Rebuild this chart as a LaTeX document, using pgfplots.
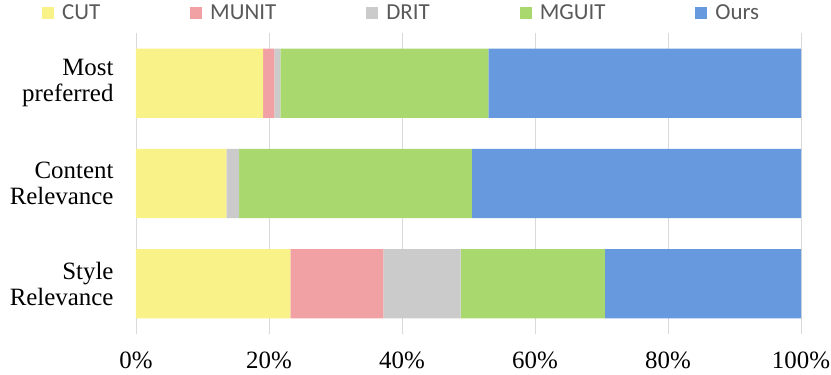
\documentclass[border=0pt]{standalone}
\usepackage{pgfplots}
\pgfplotsset{compat=1.18}
\usepackage{fontspec}
\setmainfont{Liberation Serif}
\newfontfamily\legfont{Carlito}

\definecolor{cCut}{RGB}{249,242,136}
\definecolor{cMunit}{RGB}{241,160,164}
\definecolor{cDrit}{RGB}{203,203,203}
\definecolor{cMguit}{RGB}{168,216,110}
\definecolor{cOurs}{RGB}{102,153,221}
\definecolor{legtext}{RGB}{89,89,89}

\begin{document}
\begin{tikzpicture}
\path[use as bounding box] (-136bp,-41bp) rectangle (695bp,334bp);
\begin{axis}[
  scale only axis,
  width=665bp, height=301bp,
  xbar stacked,
  bar width=0.69,
  xmin=0, xmax=100,
  ymin=0.5, ymax=3.5,
  y dir=reverse,
  ytick={1,2,3},
  yticklabels={{Most\\preferred},{Content\\Relevance},{Style\\Relevance}},
  yticklabel style={align=right, font=\fontsize{25}{26}\selectfont, xshift=-19bp},
  xtick={0,20,40,60,80,100},
  xticklabel={\pgfmathprintnumber{\tick}\%},
  xticklabel style={font=\fontsize{25}{26}\selectfont, yshift=-14bp},
  /pgf/number format/assume math mode=true,
  major tick length=0pt,
  axis line style={draw=none},
  xmajorgrids,
  major grid style={draw=black!15, line width=0.8bp},
  legend columns=-1,
  legend image code/.code={\fill[#1] (0bp,-6bp) rectangle (12bp,6bp);},
  legend style={draw=none, at={(-0.1414,1.067)}, anchor=west, inner sep=0pt,
    font=\legfont\fontsize{23}{25}\selectfont, text=legtext,
    nodes={inner xsep=0pt, inner ysep=1pt},
    /tikz/every odd column/.append style={column sep=8bp},
    /tikz/every even column/.append style={column sep=90bp}},
]
\addplot[fill=cCut, draw=none] coordinates {(19.1,1) (13.6,2) (23.2,3)};
\addlegendentry{CUT}
\addplot[fill=cMunit, draw=none] coordinates {(1.7,1) (0,2) (14.0,3)};
\addlegendentry{MUNIT}
\addplot[fill=cDrit, draw=none] coordinates {(0.9,1) (1.9,2) (11.6,3)};
\addlegendentry{DRIT}
\addplot[fill=cMguit, draw=none] coordinates {(31.3,1) (35.0,2) (21.7,3)};
\addlegendentry{MGUIT}
\addplot[fill=cOurs, draw=none] coordinates {(47.0,1) (49.5,2) (29.5,3)};
\addlegendentry{Ours}
\end{axis}
\end{tikzpicture}
\end{document}
